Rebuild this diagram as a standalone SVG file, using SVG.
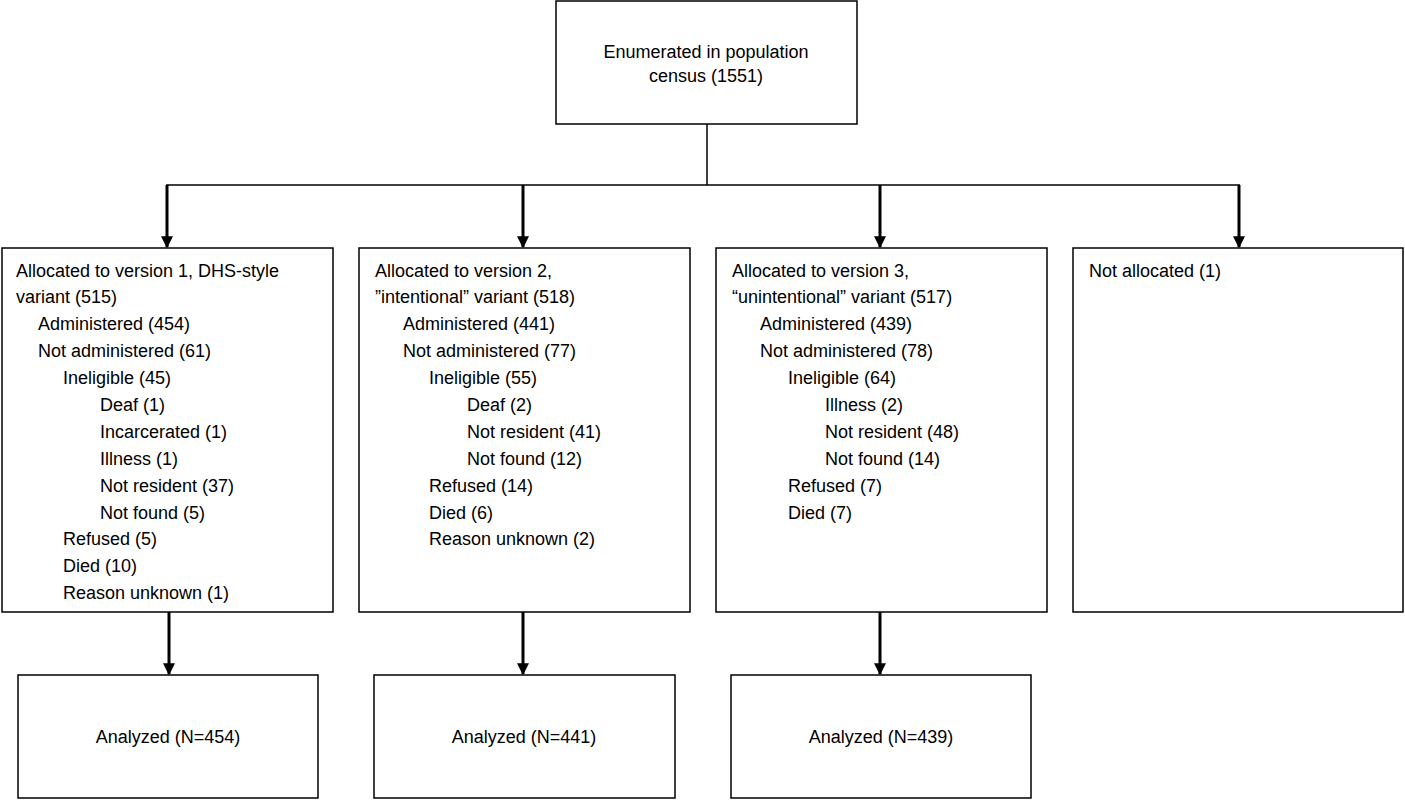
<svg xmlns="http://www.w3.org/2000/svg" width="1405" height="800" viewBox="0 0 1405 800">
<style>
rect{fill:#fff;stroke:#000;stroke-width:1.5}
text{font-family:"Liberation Sans",Arial,sans-serif;font-size:18px;fill:#000}
.c{text-anchor:middle}
#connectors line{stroke:#000;stroke-width:1.5}
#connectors .a{stroke-width:3;marker-end:url(#ah)}
</style>
<defs><marker id="ah" viewBox="0 0 10 10" refX="9" refY="5" markerWidth="4" markerHeight="4" orient="auto" markerUnits="strokeWidth"><path d="M0,0L10,5L0,10z" fill="#000"/></marker></defs>
<rect width="1405" height="800" style="stroke:none"/>
<g id="connectors">
<line x1="707" y1="124" x2="707" y2="185"/>
<line x1="166" y1="185" x2="1240" y2="185"/>
<line class="a" x1="167" y1="185" x2="167" y2="247"/>
<line class="a" x1="523" y1="185" x2="523" y2="247"/>
<line class="a" x1="880" y1="185" x2="880" y2="247"/>
<line class="a" x1="1239" y1="185" x2="1239" y2="247"/>
<line class="a" x1="169" y1="612" x2="169" y2="674"/>
<line class="a" x1="523" y1="612" x2="523" y2="674"/>
<line class="a" x1="880" y1="612" x2="880" y2="674"/>
</g>
<g id="census"><rect x="556" y="1" width="301" height="123"/>
<text class="c" x="706" y="58">Enumerated in population</text><text class="c" x="706" y="82">census (1551)</text></g>
<g id="v1"><rect x="2" y="248" width="331" height="364"/>
<text x="16" y="277">Allocated to version 1, DHS-style</text>
<text x="16" y="303">variant (515)</text>
<text x="38" y="330">Administered (454)</text>
<text x="38" y="357">Not administered (61)</text>
<text x="63" y="384">Ineligible (45)</text>
<text x="100" y="411">Deaf (1)</text>
<text x="100" y="438">Incarcerated (1)</text>
<text x="100" y="465">Illness (1)</text>
<text x="100" y="492">Not resident (37)</text>
<text x="100" y="519">Not found (5)</text>
<text x="63" y="545">Refused (5)</text>
<text x="63" y="572">Died (10)</text>
<text x="63" y="599">Reason unknown (1)</text>
</g>
<g id="v2"><rect x="359" y="248" width="331" height="364"/>
<text x="375" y="277">Allocated to version 2,</text>
<text x="375" y="303">”intentional” variant (518)</text>
<text x="403" y="330">Administered (441)</text>
<text x="403" y="357">Not administered (77)</text>
<text x="429" y="384">Ineligible (55)</text>
<text x="467" y="411">Deaf (2)</text>
<text x="467" y="438">Not resident (41)</text>
<text x="467" y="465">Not found (12)</text>
<text x="429" y="492">Refused (14)</text>
<text x="429" y="519">Died (6)</text>
<text x="429" y="545">Reason unknown (2)</text>
</g>
<g id="v3"><rect x="716" y="248" width="331" height="364"/>
<text x="732" y="277">Allocated to version 3,</text>
<text x="732" y="303">“unintentional” variant (517)</text>
<text x="760" y="330">Administered (439)</text>
<text x="760" y="357">Not administered (78)</text>
<text x="788" y="384">Ineligible (64)</text>
<text x="825" y="411">Illness (2)</text>
<text x="825" y="438">Not resident (48)</text>
<text x="825" y="465">Not found (14)</text>
<text x="788" y="492">Refused (7)</text>
<text x="788" y="519">Died (7)</text>
</g>
<g id="na"><rect x="1073" y="248" width="330" height="364"/>
<text x="1089" y="277">Not allocated (1)</text></g>
<g id="a1"><rect x="18" y="675" width="300" height="123"/><text class="c" x="168" y="743">Analyzed (N=454)</text></g>
<g id="a2"><rect x="374" y="675" width="301" height="123"/><text class="c" x="524" y="743">Analyzed (N=441)</text></g>
<g id="a3"><rect x="731" y="675" width="300" height="123"/><text class="c" x="881" y="743">Analyzed (N=439)</text></g>
</svg>
